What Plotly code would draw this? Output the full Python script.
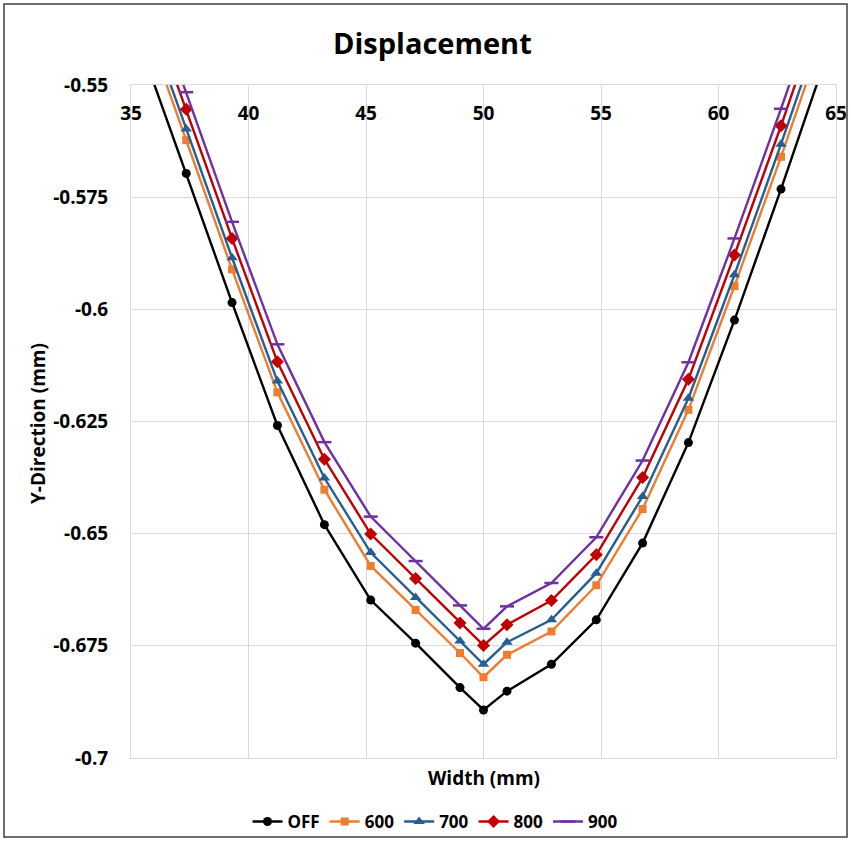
import plotly.graph_objects as go

# Width positions (mm)
width_mm = [35.4, 37.35, 39.3, 41.23, 43.23, 45.2, 47.11, 49.0, 50.0, 51.0,
            52.89, 54.8, 56.77, 58.72, 60.68, 62.66, 64.6]

# Y-direction displacement (mm) per series
y_off = [-0.5412, -0.5697, -0.5985, -0.6259, -0.6480, -0.6648, -0.6744, -0.6843, -0.6893,
         -0.6851, -0.6791, -0.6692, -0.6521, -0.6297, -0.6024, -0.5732, -0.5435]
y_600 = [-0.5335, -0.5623, -0.5911, -0.6185, -0.6402, -0.6572, -0.6670, -0.6766, -0.6820,
         -0.6770, -0.6718, -0.6615, -0.6445, -0.6224, -0.5948, -0.5660, -0.5365]
y_700 = [-0.5310, -0.5598, -0.5885, -0.6160, -0.6376, -0.6542, -0.6642, -0.6739, -0.6791,
         -0.6742, -0.6692, -0.6588, -0.6417, -0.6198, -0.5923, -0.5632, -0.5335]
y_800 = [-0.5270, -0.5554, -0.5842, -0.6117, -0.6334, -0.6501, -0.6600, -0.6699, -0.6749,
         -0.6703, -0.6649, -0.6547, -0.6375, -0.6156, -0.5879, -0.5591, -0.5295]
y_900 = [-0.5230, -0.5516, -0.5805, -0.6078, -0.6296, -0.6462, -0.6561, -0.6660, -0.6712,
         -0.6662, -0.6610, -0.6508, -0.6337, -0.6118, -0.5842, -0.5553, -0.5260]

series_names = ["OFF", "600", "700", "800", "900"]
x_ticks = [35, 40, 45, 50, 55, 60, 65]
y_ticks = [-0.55, -0.575, -0.6, -0.625, -0.65, -0.675, -0.7]
y_tick_text = ["-0.55", "-0.575", "-0.6", "-0.625", "-0.65", "-0.675", "-0.7"]

FONT = "Open Sans"
W, H = 851, 841
L, R, T, B = 131, 15, 85, 83
pw, ph = W - L - R, H - T - B

styles = [
    dict(color="#000000", symbol="circle", size=9),
    dict(color="#ED7D31", symbol="square", size=8),
    dict(color="#255E91", symbol="triangle-up", size=10),
    dict(color="#C00000", symbol="diamond", size=10),
    dict(color="#7030A0", symbol="line-ew", size=10),
]

fig = go.Figure()
for name, ys, st in zip(series_names, [y_off, y_600, y_700, y_800, y_900], styles):
    mk = dict(symbol=st["symbol"], size=st["size"], color=st["color"])
    if st["symbol"] == "line-ew":
        mk["line"] = dict(color=st["color"], width=2.5)
    fig.add_trace(go.Scatter(
        x=width_mm, y=ys, name=name, mode="lines+markers",
        line=dict(color=st["color"], width=2.4),
        marker=mk,
    ))

def px_x(px):
    return (px - L) / pw

def px_y(py):
    return (H - B - py) / ph

tick_font = dict(family=FONT, size=19, color="#000000", weight="bold")

fig.update_layout(
    width=W, height=H,
    margin=dict(l=L, r=R, t=T, b=B, autoexpand=False),
    paper_bgcolor="white", plot_bgcolor="white",
    font=dict(family=FONT, color="#000000"),
    showlegend=True,
    legend=dict(orientation="h", xref="container", yref="container",
                x=435 / W, y=1 - 822 / H, xanchor="center", yanchor="middle",
                font=dict(family=FONT, size=17, color="#000000", weight="bold"),
                itemwidth=30, tracegroupgap=0, bgcolor="rgba(0,0,0,0)"),
    xaxis=dict(range=[35, 65], tickvals=x_ticks, side="top", ticklabelposition="inside",
               ticklabeloverflow="allow", ticks="", ticklabelstandoff=23, automargin=False,
               showgrid=True, gridcolor="#d9d9d9",
               gridwidth=1, zeroline=False, showline=True, mirror=True,
               linecolor="#d9d9d9", linewidth=1, tickfont=tick_font),
    yaxis=dict(range=[-0.7, -0.55], tickvals=y_ticks, ticktext=y_tick_text, ticks="",
               ticklabelstandoff=18, automargin=False,
               showgrid=True, gridcolor="#d9d9d9", gridwidth=1, zeroline=False,
               showline=True, mirror=True, linecolor="#d9d9d9", linewidth=1,
               tickfont=tick_font),
    annotations=[
        dict(text="Displacement", xref="paper", yref="paper", x=px_x(432), y=px_y(42),
             xanchor="center", yanchor="middle", showarrow=False,
             font=dict(family=FONT, size=29, color="#000000", weight="bold")),
        dict(text="Width (mm)", xref="paper", yref="paper", x=px_x(484), y=px_y(778),
             xanchor="center", yanchor="middle", showarrow=False,
             font=dict(family=FONT, size=19, color="#000000", weight="bold")),
        dict(text="Y-Direction (mm)", xref="paper", yref="paper", x=px_x(38), y=px_y(424),
             xanchor="center", yanchor="middle", showarrow=False, textangle=-90,
             font=dict(family=FONT, size=19, color="#000000", weight="bold")),
    ],
    shapes=[
        dict(type="rect", xref="paper", yref="paper",
             x0=px_x(4), x1=px_x(847), y0=px_y(837), y1=px_y(4),
             line=dict(color="#404040", width=1.5), fillcolor="rgba(0,0,0,0)", layer="above"),
    ],
)

fig.write_html("out.html", config={"displayModeBar": False},
               post_script="document.body.style.margin='0';document.body.style.padding='0';")
